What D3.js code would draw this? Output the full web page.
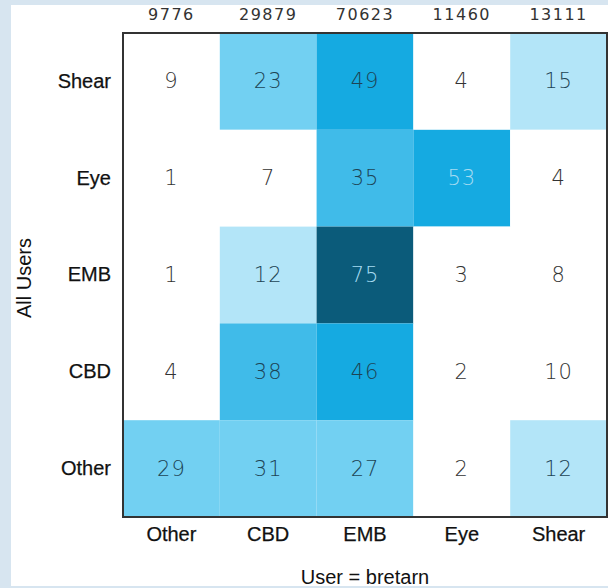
<!DOCTYPE html>
<html>
<head>
<meta charset="utf-8">
<script src="https://cdn.jsdelivr.net/npm/d3@7"></script>
<style>
  body { margin: 0; background: #d7e5f0; }
  svg { display: block; }
</style>
</head>
<body>
<div id="chart"></div>
<script>
// data
var cols = ["Other", "CBD", "EMB", "Eye", "Shear"];   // User = bretarn
var rows = ["Shear", "Eye", "EMB", "CBD", "Other"];   // All Users, top to bottom
var colTotals = [9776, 29879, 70623, 11460, 13111];
var values = [
    [9, 23, 49, 4, 15],
    [1, 7, 35, 53, 4],
    [1, 12, 75, 3, 8],
    [4, 38, 46, 2, 10],
    [29, 31, 27, 2, 12]
];

var width = 608, height = 588;
// note: "top" is taken by window.top, so use other names
var gridLeft = 123, gridRight = 607, gridTop = 33, gridBottom = 517;
var labelFont = "Liberation Sans, Arial, sans-serif";

var svg = d3.select("#chart").append("svg")
    .attr("width", width)
    .attr("height", height);

// white panel
svg.append("rect")
    .attr("x", 11).attr("y", 5)
    .attr("width", width - 11).attr("height", 581)
    .attr("fill", "white");

var x = d3.scaleBand().domain(cols).range([gridLeft, gridRight]);
var y = d3.scaleBand().domain(rows).range([gridTop, gridBottom]);

var color = d3.scaleThreshold()
    .domain([11, 20, 35, 45, 60])
    .range(["#ffffff", "#b3e5f8", "#72d0f2", "#40bbe9", "#15aae1", "#0b5b7a"]);

var cells = [];
values.forEach(function (r, i) {
    r.forEach(function (v, j) {
        cells.push({ row: rows[i], col: cols[j], v: v });
    });
});

var g = svg.append("g");

g.selectAll(".cell")
    .data(cells)
    .enter()
    .append("rect")
    .attr("class", "cell")
    .attr("x", function (d) { return x(d.col); })
    .attr("y", function (d) { return y(d.row); })
    .attr("width", x.bandwidth())
    .attr("height", y.bandwidth())
    .attr("fill", function (d) { return color(d.v); });

g.selectAll(".val")
    .data(cells)
    .enter()
    .append("text")
    .attr("class", "val")
    .attr("x", function (d) { return x(d.col) + x.bandwidth() / 2; })
    .attr("y", function (d) { return y(d.row) + y.bandwidth() / 2 + 7; })
    .attr("text-anchor", "middle")
    .style("font-family", "DejaVu Sans")
    .style("font-size", "21px")
    .style("font-weight", "200")
    .style("letter-spacing", "1px")
    .attr("fill", function (d) {
        if (d.v >= 50) return "#a6dcf2";
        if (d.v > 10) return "#1d4455";
        return "#333";
    })
    .text(function (d) { return d.v; });

// frame
svg.append("rect")
    .attr("x", gridLeft).attr("y", gridTop)
    .attr("width", gridRight - gridLeft).attr("height", gridBottom - gridTop)
    .attr("fill", "none")
    .attr("stroke", "#333")
    .attr("stroke-width", 2);

// column totals on top
svg.selectAll(".tot")
    .data(colTotals)
    .enter()
    .append("text")
    .attr("class", "tot")
    .attr("x", function (d, i) { return x(cols[i]) + x.bandwidth() / 2; })
    .attr("y", 20)
    .attr("text-anchor", "middle")
    .style("font-family", "DejaVu Sans")
    .style("font-size", "16px")
    .style("letter-spacing", "1.5px")
    .attr("fill", "#333")
    .text(function (d) { return d; });

// axes labels
var xAxis = svg.append("g")
    .attr("transform", "translate(0," + gridBottom + ")")
    .call(d3.axisBottom(x).tickSize(0).tickPadding(10));
xAxis.select(".domain").remove();
xAxis.selectAll("text")
    .style("font-family", labelFont)
    .style("font-size", "20px")
    .attr("fill", "#111")
    .attr("stroke", "#111")
    .attr("stroke-width", 0.25);

var yAxis = svg.append("g")
    .attr("transform", "translate(" + gridLeft + ",0)")
    .call(d3.axisLeft(y).tickSize(0).tickPadding(12));
yAxis.select(".domain").remove();
yAxis.selectAll("text")
    .style("font-family", labelFont)
    .style("font-size", "20px")
    .attr("fill", "#111")
    .attr("stroke", "#111")
    .attr("stroke-width", 0.25);

svg.append("text")
    .attr("x", 365)
    .attr("y", 584)
    .attr("text-anchor", "middle")
    .style("font-family", labelFont)
    .style("font-size", "20px")
    .attr("fill", "#111")
    .text("User = bretarn");

svg.append("text")
    .attr("transform", "translate(31," + 278 + ") rotate(-90)")
    .attr("text-anchor", "middle")
    .style("font-family", labelFont)
    .style("font-size", "20px")
    .attr("fill", "#111")
    .text("All Users");
</script>
</body>
</html>
